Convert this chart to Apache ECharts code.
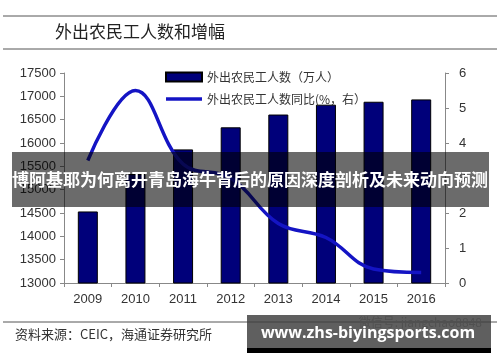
<!DOCTYPE html>
<html>
<head>
<meta charset="utf-8">
<script src="https://cdn.jsdelivr.net/npm/echarts@6/dist/echarts.min.js"></script>
<style>html,body{margin:0;padding:0;background:#fff;}#c{width:500px;height:362px;}</style>
</head>
<body>
<div id="c"></div>
<script>
var years = ['2009','2010','2011','2012','2013','2014','2015','2016'];
var workers = [14533, 15335, 15863, 16336, 16610, 16821, 16884, 16934];
var yoy = [3.5, 5.5, 3.4, 3.0, 1.7, 1.3, 0.4, 0.3];
var leftTicks = {min: 13000, max: 17500, interval: 500};
var rightTicks = {min: 0, max: 6, interval: 1};
var barName = '外出农民工人数（万人）';
var lineName = '外出农民工人数同比(%，右）';
var titleText = '外出农民工人数和增幅';
var sourceText = '资料来源：CEIC，海通证券研究所';
var bannerText = '博阿基耶为何离开青岛海牛背后的原因深度剖析及未来动向预测';
var siteText = 'www.zhs-biyingsports.com';
var wmText = '微信号: jiangchao8848';

var chart = echarts.init(document.getElementById('c'), null, {renderer: 'canvas'});
var axisFont = {fontFamily: 'Liberation Sans, Arial, sans-serif', fontSize: 13, color: '#333'};
var plain = function (v) { return String(v); };
chart.setOption({
  animation: false,
  backgroundColor: '#fff',
  grid: {left: 64, right: 55, top: 73, bottom: 79},
  legend: {
    orient: 'vertical', left: 160, top: 66, itemWidth: 36, itemHeight: 9, itemGap: 10,
    textStyle: {fontFamily: 'Noto Sans CJK SC', fontSize: 12, color: '#333'},
    data: [{name: barName, icon: 'rect'}, {name: lineName, icon: 'path://M0,0 L36,0 L36,3.5 L0,3.5 Z', itemStyle: {color: '#1414c4'}}]
  },
  xAxis: {
    type: 'category', data: years, boundaryGap: true,
    axisLine: {lineStyle: {color: '#888', width: 1}},
    axisTick: {show: true, length: 4, inside: false, lineStyle: {color: '#888'}},
    axisLabel: Object.assign({margin: 10}, axisFont)
  },
  yAxis: [{
    type: 'value', min: leftTicks.min, max: leftTicks.max, interval: leftTicks.interval,
    axisLine: {show: true, lineStyle: {color: '#888'}},
    axisTick: {show: true, length: 4, lineStyle: {color: '#888'}},
    splitLine: {show: false},
    axisLabel: Object.assign({margin: 8, formatter: plain}, axisFont)
  }, {
    type: 'value', min: rightTicks.min, max: rightTicks.max, interval: rightTicks.interval,
    position: 'right',
    axisLine: {show: true, lineStyle: {color: '#888'}},
    axisTick: {show: true, length: 4, lineStyle: {color: '#888'}},
    splitLine: {show: false},
    axisLabel: Object.assign({margin: 14, formatter: plain}, axisFont)
  }],
  series: [{
    name: barName, type: 'bar', data: workers, barWidth: 20, yAxisIndex: 0,
    itemStyle: {color: '#00007a', borderColor: '#000', borderWidth: 1}
  }, {
    name: lineName, type: 'line', data: yoy, yAxisIndex: 1, smooth: 0.4,
    symbol: 'none', lineStyle: {color: '#1414c4', width: 3.5}, itemStyle: {color: '#1414c4'}, z: 5
  }],
  graphic: [
    {type: 'line', shape: {x1: 3, y1: 16, x2: 497, y2: 16}, style: {stroke: '#555', lineWidth: 1}},
    {type: 'line', shape: {x1: 3, y1: 49, x2: 497, y2: 49}, style: {stroke: '#555', lineWidth: 1}},
    {type: 'text', left: 55, top: 23, style: {text: titleText, font: '17px "Noto Sans CJK SC"', fill: '#222'}},
    {type: 'line', shape: {x1: 3, y1: 322, x2: 497, y2: 322}, style: {stroke: '#555', lineWidth: 1}},
    {type: 'text', left: 15, top: 328, style: {text: sourceText, font: '13px "Noto Sans CJK SC"', fill: '#333'}},
    {type: 'rect', shape: {x: 12, y: 152, width: 477, height: 55}, style: {fill: 'rgba(0,0,0,0.58)'}, z: 100},
    {type: 'text', x: 250, y: 180, z: 101, style: {text: bannerText, font: 'bold 17px "Noto Sans CJK SC"', fill: '#fff', align: 'center', verticalAlign: 'middle'}},
    {type: 'text', x: 482, y: 322, z: 99, style: {text: wmText, font: '12px "Noto Sans CJK SC"', fill: '#aaa', align: 'right', verticalAlign: 'middle'}},
    {type: 'rect', shape: {x: 247, y: 315, width: 244, height: 34}, style: {fill: 'rgba(60,60,60,0.82)'}, z: 100},
    {type: 'rect', shape: {x: 247, y: 348, width: 244, height: 5}, style: {fill: '#000'}, z: 100},
    {type: 'text', x: 368, y: 333, z: 101, style: {text: siteText, font: 'bold 16px "Open Sans"', fill: '#fff', align: 'center', verticalAlign: 'middle'}}
  ]
});
</script>
</body>
</html>
